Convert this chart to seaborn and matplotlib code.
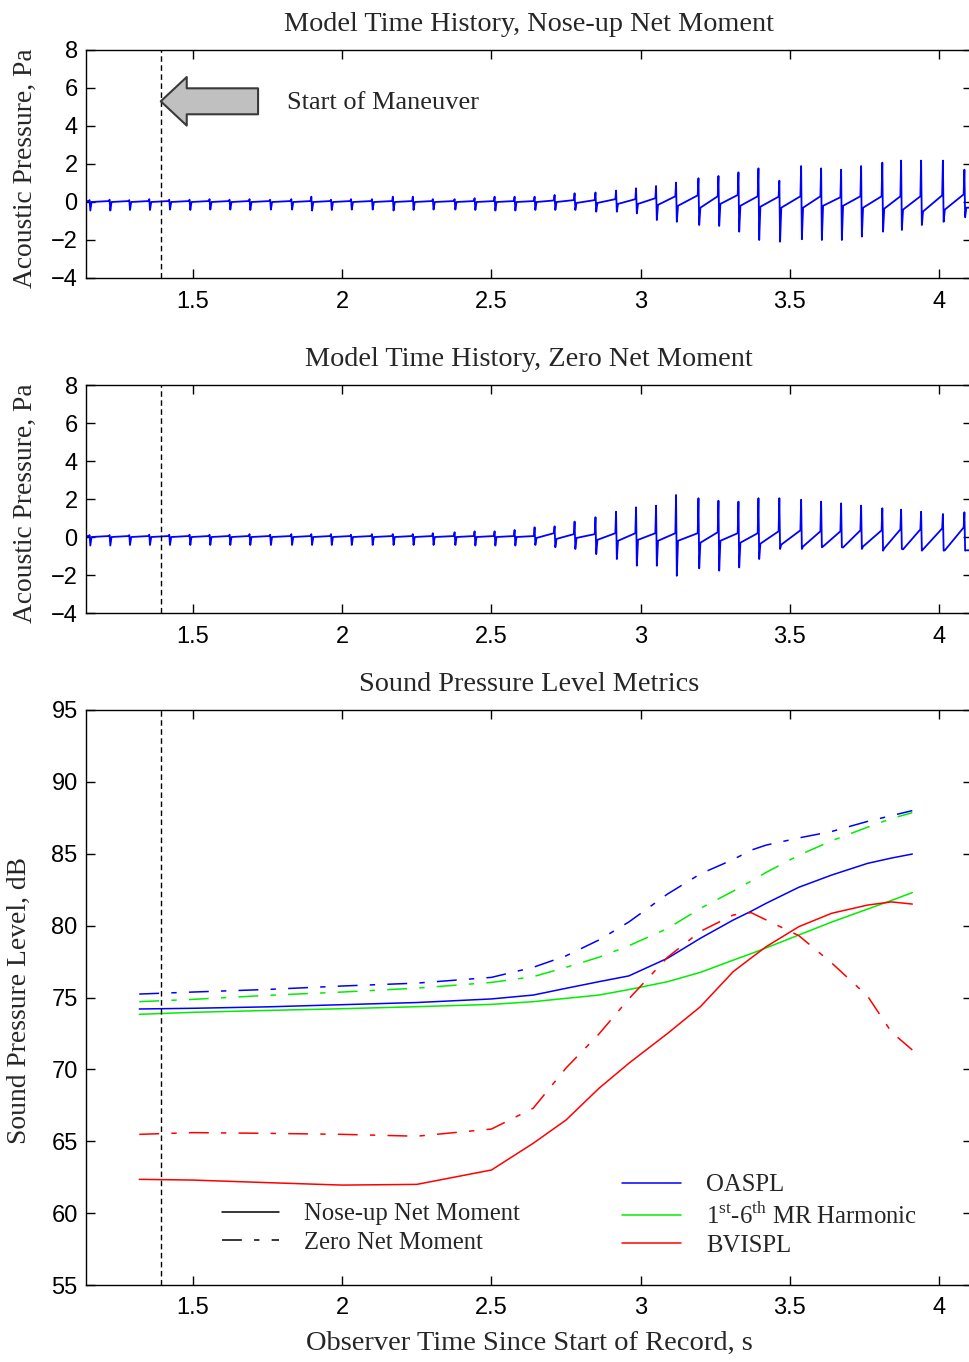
import pandas as pd
import seaborn as sns
import matplotlib.pyplot as plt
from matplotlib.lines import Line2D

pulse_t = [1.155, 1.222, 1.288, 1.355, 1.422, 1.490, 1.557, 1.624, 1.691, 1.760,
           1.831, 1.898, 1.964, 2.031, 2.101, 2.171, 2.238, 2.305, 2.378, 2.445,
           2.512, 2.579, 2.646, 2.713, 2.780, 2.850, 2.919, 2.986, 3.053, 3.120,
           3.195, 3.262, 3.329, 3.396, 3.466, 3.539, 3.606, 3.673, 3.740, 3.811,
           3.874, 3.941, 4.014, 4.086]

# nose-up net moment: positive peak, negative peak, level before / after each pulse (Pa)
noseup_up = [0.10, 0.12, 0.10, 0.15, 0.12, 0.12, 0.15, 0.12, 0.15, 0.12, 0.15,
             0.28, 0.12, 0.15, 0.15, 0.28, 0.28, 0.15, 0.15, 0.20, 0.28, 0.28,
             0.28, 0.37, 0.46, 0.50, 0.60, 0.72, 0.84, 1.02, 1.25, 1.37, 1.56,
             1.77, 1.12, 1.89, 1.77, 1.70, 1.89, 2.07, 2.18, 2.18, 2.18, 1.70]
noseup_down = [-0.45, -0.45, -0.42, -0.42, -0.40, -0.42, -0.40, -0.40, -0.42, -0.40, -0.40,
               -0.45, -0.42, -0.40, -0.40, -0.45, -0.42, -0.40, -0.40, -0.42, -0.45, -0.45,
               -0.42, -0.42, -0.42, -0.51, -0.51, -0.60, -0.95, -1.04, -1.21, -1.26, -1.56,
               -2.00, -2.09, -1.96, -2.00, -2.00, -1.82, -1.56, -1.47, -1.21, -1.04, -0.80]
noseup_pre = [0.05, 0.05, 0.05, 0.05, 0.05, 0.05, 0.05, 0.05, 0.05, 0.05, 0.05,
              0.05, 0.05, 0.05, 0.05, 0.05, 0.05, 0.05, 0.05, 0.05, 0.05, 0.05,
              0.05, 0.08, 0.10, 0.10, 0.15, 0.15, 0.20, 0.30, 0.35, 0.30, 0.37,
              0.30, 0.28, 0.30, 0.30, 0.25, 0.30, 0.30, 0.30, 0.30, 0.35, 0.40]
noseup_post = [0.0, 0.0, 0.0, 0.0, 0.0, 0.0, 0.0, 0.0, 0.0, 0.0, 0.0,
               0.0, 0.0, 0.0, 0.0, 0.0, 0.0, 0.0, 0.0, 0.0, 0.0, 0.0,
               0.0, 0.0, -0.05, -0.05, -0.10, -0.10, -0.15, -0.20, -0.30, -0.10, -0.20,
               -0.25, -0.30, -0.30, -0.20, -0.20, -0.30, -0.35, -0.40, -0.50, -0.40, -0.30]

# zero net moment
zero_up = [0.10, 0.10, 0.10, 0.12, 0.12, 0.12, 0.12, 0.12, 0.15, 0.12, 0.15,
           0.15, 0.15, 0.12, 0.15, 0.15, 0.15, 0.20, 0.25, 0.30, 0.30, 0.37,
           0.51, 0.56, 0.81, 1.04, 1.33, 1.56, 1.65, 2.21, 2.04, 1.91, 1.86,
           2.04, 2.04, 1.96, 1.86, 1.77, 1.65, 1.51, 1.44, 1.33, 1.21, 1.30]
zero_down = [-0.45, -0.45, -0.42, -0.42, -0.42, -0.42, -0.42, -0.42, -0.42, -0.42, -0.42,
             -0.42, -0.42, -0.42, -0.42, -0.42, -0.42, -0.42, -0.42, -0.45, -0.45, -0.45,
             -0.42, -0.54, -0.63, -0.90, -1.16, -1.51, -1.51, -2.04, -1.65, -1.77, -1.60,
             -1.16, -0.63, -0.63, -0.54, -0.54, -0.63, -0.72, -0.63, -0.72, -0.72, -0.72]
zero_pre = [0.05, 0.05, 0.05, 0.05, 0.05, 0.05, 0.05, 0.05, 0.05, 0.05, 0.05,
            0.05, 0.05, 0.05, 0.05, 0.05, 0.05, 0.05, 0.05, 0.05, 0.05, 0.05,
            0.05, 0.20, 0.15, 0.15, 0.20, 0.20, 0.20, 0.20, 0.20, 0.25, 0.20,
            0.20, 0.30, 0.35, 0.30, 0.30, 0.35, 0.35, 0.40, 0.40, 0.45, 0.50]
zero_post = [0.0, 0.0, 0.0, 0.0, 0.0, 0.0, 0.0, 0.0, 0.0, 0.0, 0.0,
             0.0, 0.0, 0.0, 0.0, 0.0, 0.0, 0.0, 0.0, 0.0, 0.0, 0.0,
             -0.05, -0.10, -0.05, -0.15, -0.20, -0.15, -0.20, -0.20, -0.30, -0.20, -0.30,
             -0.35, -0.40, -0.50, -0.50, -0.55, -0.50, -0.60, -0.65, -0.65, -0.70, -0.70]

# sound pressure level metrics, dB
spl_t = [1.32, 1.5, 1.75, 2.0, 2.25, 2.5, 2.64, 2.75, 2.86, 2.96,
         3.09, 3.2, 3.31, 3.37, 3.42, 3.53, 3.64, 3.76, 3.84, 3.91]
oaspl_noseup = [74.2, 74.25, 74.35, 74.5, 74.65, 74.9, 75.17, 75.64, 76.1, 76.5,
                77.73, 79.12, 80.39, 81.0, 81.55, 82.67, 83.52, 84.33, 84.7, 84.98]
oaspl_zero = [75.24, 75.38, 75.56, 75.8, 76.0, 76.4, 77.1, 77.9, 79.0, 80.25,
              82.2, 83.6, 84.6, 85.25, 85.6, 86.1, 86.55, 87.25, 87.65, 88.0]
harm_noseup = [73.83, 73.97, 74.1, 74.22, 74.36, 74.52, 74.71, 74.94, 75.17, 75.55,
               76.1, 76.75, 77.6, 78.05, 78.45, 79.35, 80.25, 81.15, 81.75, 82.3]
harm_zero = [74.71, 74.87, 75.15, 75.38, 75.65, 76.05, 76.45, 77.1, 77.8, 78.6,
             79.8, 81.2, 82.4, 83.1, 83.7, 84.9, 85.9, 86.85, 87.45, 87.86]
bvispl_noseup = [62.35, 62.3, 62.12, 61.95, 62.0, 63.0, 64.86, 66.48, 68.68, 70.42,
                 72.5, 74.36, 76.8, 77.75, 78.53, 79.93, 80.86, 81.43, 81.65, 81.5]
bvispl_zero = [65.48, 65.6, 65.55, 65.48, 65.35, 65.85, 67.3, 70.1, 72.46, 74.9,
               77.8, 79.6, 80.74, 80.9, 80.4, 79.3, 77.4, 75.1, 72.6, 71.35]

maneuver_t = 1.392
xlim = (1.1415, 4.11)

sns.set_style("ticks")
plt.rcParams['font.family'] = ['Liberation Sans', 'DejaVu Sans']
plt.rcParams['mathtext.fontset'] = 'custom'
plt.rcParams['mathtext.rm'] = 'Liberation Serif'
plt.rcParams['xtick.direction'] = 'in'
plt.rcParams['ytick.direction'] = 'in'
plt.rcParams['xtick.top'] = True
plt.rcParams['ytick.right'] = True

SERIF = 'Liberation Serif'
dashdot = (0, (13, 8, 3.5, 8))


def pulse_trace(up, down, pre, post):
    t, p = [xlim[0]], [pre[0]]
    for ti, u, d, a, b in zip(pulse_t, up, down, pre, post):
        t += [ti - 0.004, ti - 0.0015, ti + 0.001, ti + 0.005]
        p += [a, u, d, b]
    t.append(xlim[1])
    p.append(post[-1])
    return t, p


def style_axes(ax, title):
    ax.set_xlim(*xlim)
    ax.set_xticks([1.5, 2, 2.5, 3, 3.5, 4])
    ax.set_xticklabels(['1.5', '2', '2.5', '3', '3.5', '4'])
    ax.tick_params(length=6.5, width=1, labelsize=17, colors='black')
    ax.tick_params(axis='x', pad=9)
    ax.tick_params(axis='y', pad=6)
    for s in ax.spines.values():
        s.set_linewidth(1)
        s.set_color('black')
    ax.set_title(title, family=SERIF, fontsize=20.3, pad=14)
    ax.axvline(maneuver_t, color='black', lw=1, ls=(0, (4, 2.5)))


fig = plt.figure(figsize=(9.69, 13.62), dpi=100)
left, width = 86 / 969, 886 / 969
ax1 = fig.add_axes([left, 1 - 278 / 1362, width, 228 / 1362])
ax2 = fig.add_axes([left, 1 - 613 / 1362, width, 228 / 1362])
ax3 = fig.add_axes([left, 1 - 1285 / 1362, width, 575 / 1362])

for ax, title, arrs in [
    (ax1, 'Model Time History, Nose-up Net Moment', (noseup_up, noseup_down, noseup_pre, noseup_post)),
    (ax2, 'Model Time History, Zero Net Moment', (zero_up, zero_down, zero_pre, zero_post)),
]:
    t, p = pulse_trace(*arrs)
    sns.lineplot(x=t, y=p, ax=ax, color='#0000ff', lw=1.3, sort=False, estimator=None)
    ax.set_ylim(-4, 8)
    ax.set_yticks(range(-4, 9, 2))
    style_axes(ax, title)
    ax.set_ylabel('Acoustic Pressure, Pa', family=SERIF, fontsize=19.8)
    ax.yaxis.set_label_coords(-0.054, 0.48)

ax1.annotate('', xy=(maneuver_t, 5.3), xytext=(1.718, 5.3),
             arrowprops=dict(arrowstyle='simple,head_length=18.7,head_width=35,tail_width=18.7',
                             mutation_scale=1, shrinkA=0, shrinkB=0, fc='#c0c0c0',
                             ec='#3a3a3a', lw=1.5, joinstyle='round'))
ax1.text(1.815, 5.2, 'Start of Maneuver', family=SERIF, fontsize=19, va='center', ha='left')

# SPL panel
rows = []
for metric, case, vals in [('OASPL', 'Nose-up Net Moment', oaspl_noseup),
                           ('OASPL', 'Zero Net Moment', oaspl_zero),
                           ('Harmonic', 'Nose-up Net Moment', harm_noseup),
                           ('Harmonic', 'Zero Net Moment', harm_zero),
                           ('BVISPL', 'Nose-up Net Moment', bvispl_noseup),
                           ('BVISPL', 'Zero Net Moment', bvispl_zero)]:
    for tt, v in zip(spl_t, vals):
        rows.append({'time': tt, 'spl': v, 'metric': metric, 'case': case})
spl = pd.DataFrame(rows)

palette = {'OASPL': '#0000ff', 'Harmonic': '#00ee00', 'BVISPL': '#ff0000'}
sns.lineplot(data=spl, x='time', y='spl', hue='metric', style='case', palette=palette,
             dashes={'Nose-up Net Moment': '', 'Zero Net Moment': (13, 8, 3.5, 8)},
             lw=1.1, estimator=None, legend=False, ax=ax3)
ax3.set_ylim(55, 95)
ax3.set_yticks(range(55, 96, 5))
style_axes(ax3, 'Sound Pressure Level Metrics')
ax3.set_ylabel('Sound Pressure Level, dB', family=SERIF, fontsize=19.8)
ax3.yaxis.set_label_coords(-0.061, 0.495)
ax3.set_xlabel('Observer Time Since Start of Record, s', family=SERIF, fontsize=20.5, labelpad=8)

legprop = {'family': SERIF, 'size': 17.8}
case_leg = ax3.legend(
    handles=[Line2D([], [], color='black', lw=1.1),
             Line2D([], [], color='black', lw=1.1, ls=dashdot)],
    labels=['Nose-up Net Moment', 'Zero Net Moment'],
    loc='upper left', bbox_to_anchor=(0.1535, 0.1426), frameon=False, prop=legprop,
    handlelength=2.3, handletextpad=1.0, labelspacing=0.25, borderpad=0, borderaxespad=0)
ax3.add_artist(case_leg)
ax3.legend(
    handles=[Line2D([], [], color=palette[m], lw=1.1) for m in ['OASPL', 'Harmonic', 'BVISPL']],
    labels=['OASPL', r'1$^{\mathrm{st}}$-6$^{\mathrm{th}}$ MR Harmonic', 'BVISPL'],
    loc='upper left', bbox_to_anchor=(0.605, 0.193), frameon=False, prop=legprop,
    handlelength=2.4, handletextpad=1.0, labelspacing=0.25, borderpad=0, borderaxespad=0)

fig.savefig('out.png', dpi=100)
